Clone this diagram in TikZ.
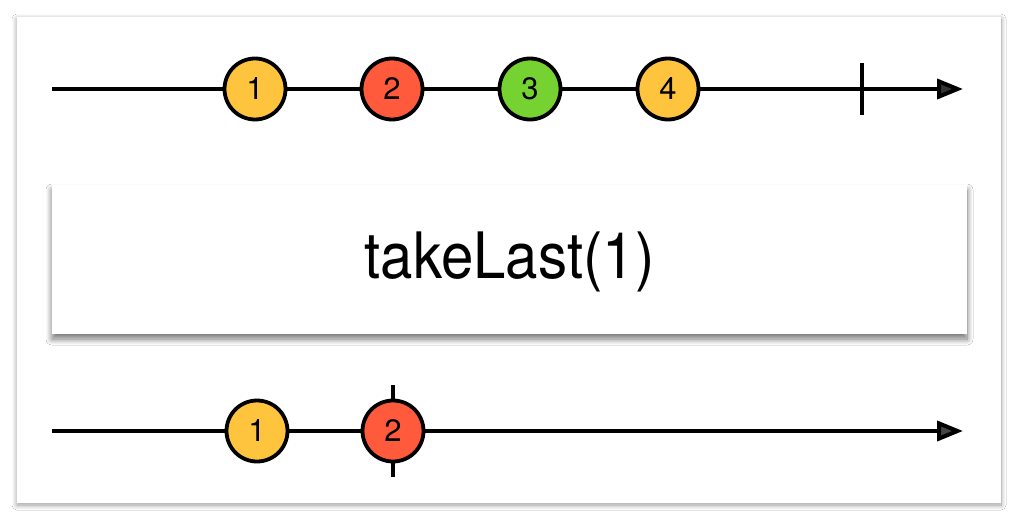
\documentclass[tikz,border=0pt]{standalone}
\usepackage{fontspec}
\setmainfont{TeX Gyre Heros}
\usetikzlibrary{arrows.meta,shadows.blur}

\definecolor{marbleyellow}{RGB}{255,196,62}
\definecolor{marblered}{RGB}{255,90,60}
\definecolor{marblegreen}{RGB}{118,210,48}

\tikzset{
  card/.style={draw=none, fill=white,
    blur shadow={shadow xshift=0pt, shadow yshift=-2pt,
      shadow blur radius=5pt, shadow blur steps=12, shadow opacity=40}},
  opbox/.style={draw=none, fill=white, inner sep=0pt,
    blur shadow={shadow xshift=0pt, shadow yshift=-5pt,
      shadow blur radius=6pt, shadow blur steps=12, shadow opacity=55}},
  timeline/.style={line width=4pt, -{Triangle[length=26pt, width=20pt]}},
  marble/.style={circle, draw=black, line width=3.8pt, minimum size=61pt,
    inner sep=0pt, font=\fontsize{31}{31}\selectfont},
  tick/.style={line width=4pt},
}

\begin{document}
\begin{tikzpicture}[x=1pt, y=-1pt]
  \useasboundingbox (0,0) rectangle (1018,522);
  \fill[white] (0,0) rectangle (1018,522);

  % outer card
  \path[card] (17,17) rectangle (1001,503);

  % source stream
  \coordinate (s1) at (52,89);
  \coordinate (e1) at (963,89);
  \draw[timeline] (s1) -- (e1);
  \coordinate (c1a) at (862,63);
  \coordinate (c1b) at (862,115);
  \draw[tick] (c1a) -- (c1b);
  \node[marble, fill=marbleyellow] (a1) at (255,89) {1};
  \node[marble, fill=marblered]    (a2) at (392,89) {2};
  \node[marble, fill=marblegreen]  (a3) at (530,89) {3};
  \node[marble, fill=marbleyellow] (a4) at (668,89) {4};

  % operator box
  \path[opbox] (52,185) rectangle (967,334);
  \node[font=\fontsize{64}{64}\selectfont] (op) at (509.5,262)
    {\scalebox{0.91}[1]{takeLast(1)}};

  % result stream
  \coordinate (s2) at (52,431);
  \coordinate (e2) at (963,431);
  \draw[timeline] (s2) -- (e2);
  \coordinate (c2a) at (393,385);
  \coordinate (c2b) at (393,477);
  \draw[tick] (c2a) -- (c2b);
  \node[marble, fill=marbleyellow] (b1) at (257,431) {1};
  \node[marble, fill=marblered]    (b2) at (393,431) {2};
\end{tikzpicture}
\end{document}
